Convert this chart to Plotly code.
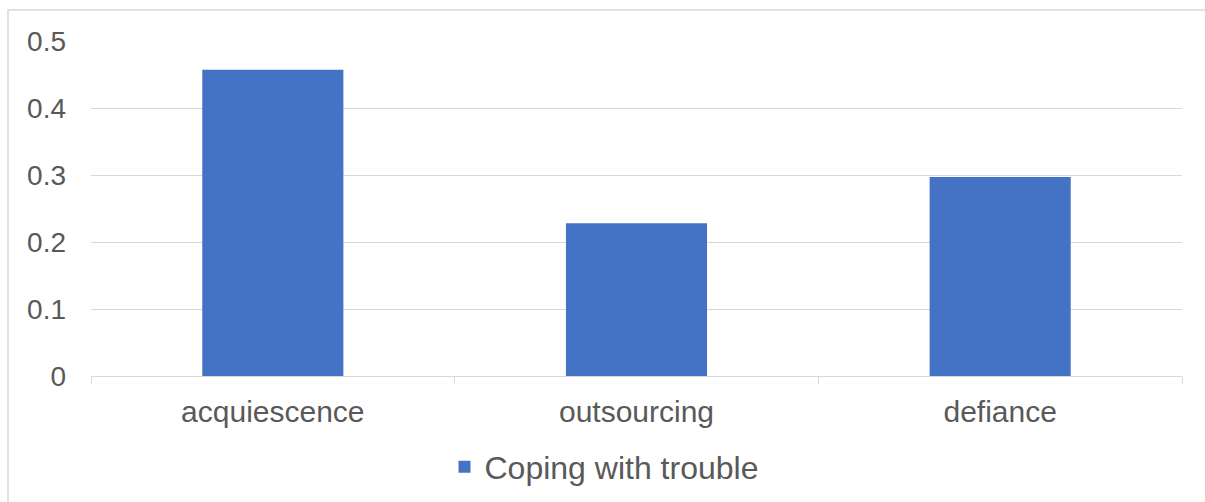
import plotly.graph_objects as go

categories = ["acquiescence", "outsourcing", "defiance"]
values = [0.457, 0.228, 0.297]
series_name = "Coping with trouble"
y_ticks = [0, 0.1, 0.2, 0.3, 0.4, 0.5]
y_tick_labels = ["0", "0.1", "0.2", "0.3", "0.4", "0.5"]

W, H = 1205, 502
L, R, T, B = 91, 23, 41, 126
pw, ph = W - L - R, H - T - B

def px_x(x):
    return (x - L) / pw

def px_y(y):
    return (H - B - y) / ph

font_family = "Liberation Sans, Arial, sans-serif"
txt = "#595959"
grid = "#d9d9d9"

fig = go.Figure()
fig.add_trace(go.Bar(
    x=categories, y=values, name=series_name,
    marker=dict(color="#4472C4", line=dict(width=0)),
    showlegend=True,
))

fig.update_layout(
    width=W, height=H,
    margin=dict(l=L, r=R, t=T, b=B, pad=0, autoexpand=False),
    paper_bgcolor="white", plot_bgcolor="white",
    bargap=0.612,
    font=dict(family=font_family, size=28, color=txt),
    showlegend=True,
    legend=dict(orientation="h", x=px_x(604), xanchor="center",
                y=px_y(467), yanchor="middle",
                font=dict(size=32, color=txt), itemwidth=30),
    shapes=[dict(type="rect", xref="paper", yref="paper",
                 x0=px_x(8), x1=px_x(1215), y0=px_y(520), y1=px_y(10),
                 line=dict(color=grid, width=1.5), fillcolor="rgba(0,0,0,0)",
                 layer="below")],
)
fig.update_yaxes(range=[0, 0.5], tickvals=y_ticks, ticktext=y_tick_labels,
                 showgrid=True, gridcolor=grid, gridwidth=1.3,
                 zeroline=False, showline=False, ticks="",
                 ticklabelstandoff=24, tickfont=dict(size=28, color=txt))
fig.update_xaxes(showline=True, linecolor=grid, linewidth=1.3,
                 ticks="outside", tickson="boundaries", ticklen=7,
                 tickcolor=grid, tickwidth=1.3,
                 tickfont=dict(size=30, color=txt), ticklabelstandoff=9)

fig.write_html("out.html")
